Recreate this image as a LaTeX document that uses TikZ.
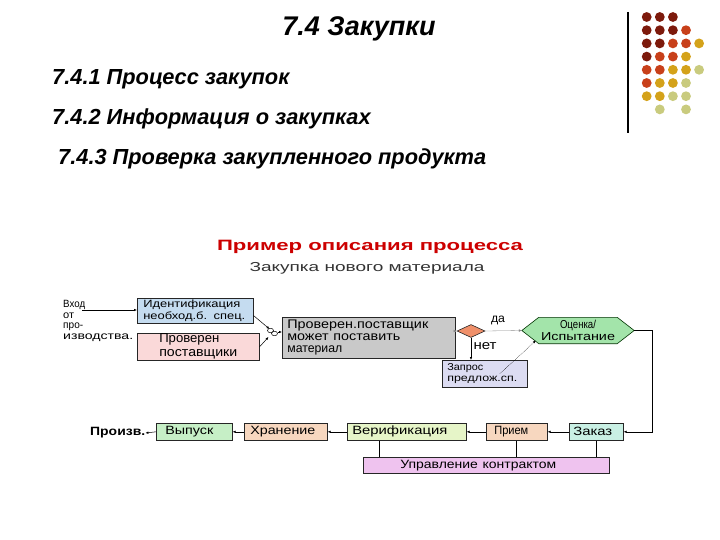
\documentclass[tikz,border=0pt]{standalone}
\usepackage{fontspec}
\setmainfont{Liberation Sans}
\usepackage{graphicx}
\usetikzlibrary{shapes.geometric,arrows.meta,backgrounds}
\newcommand\fw[2]{\resizebox{#1pt}{\height}{#2}}
\definecolor{dD}{HTML}{7D1A0C}
\definecolor{dR}{HTML}{C8401A}
\definecolor{dG}{HTML}{D4A21A}
\definecolor{dP}{HTML}{C9CB7E}
\definecolor{cIdent}{HTML}{C5DCF0}
\definecolor{cProv}{HTML}{FAD9D9}
\definecolor{cGray}{HTML}{C9C9C9}
\definecolor{cDia}{HTML}{F0906A}
\definecolor{cZap}{HTML}{DCDCF2}
\definecolor{cHex}{HTML}{A3E4AA}
\definecolor{cVyp}{HTML}{C6EFC6}
\definecolor{cHra}{HTML}{F7D7BF}
\definecolor{cVer}{HTML}{E6F5C8}
\definecolor{cZak}{HTML}{C9F0E4}
\definecolor{cUpr}{HTML}{EFC3EF}
\definecolor{cRed}{HTML}{CC0000}
\begin{document}
\begin{tikzpicture}[x=1pt,y=-1pt,
  hdr/.style={anchor=west,inner sep=0pt,font=\fontsize{21.8}{24}\selectfont\bfseries\itshape},
  box/.style={draw=black!85,line width=0.6pt,inner ysep=0pt,align=left,anchor=north west},
  arr/.style={-{Latex[length=3pt,width=2.5pt]},line width=0.5pt},
  dot/.style={circle,inner sep=0pt,minimum size=9.8pt},
  lbl/.style={inner sep=0pt}]
\useasboundingbox (0,0) rectangle (720,540);
% header
\node[inner sep=0pt,font=\fontsize{27}{30}\selectfont\bfseries\itshape] (title) at (359,29) {7.4 Закупки};
\node[hdr] (s1) at (52,79) {7.4.1 Процесс закупок};
\node[hdr] (s2) at (52,119) {7.4.2 Информация о закупках};
\node[hdr] (s3) at (58,159) {7.4.3 Проверка закупленного продукта};
% decoration
\draw[line width=1.1pt] (628,12) -- (628,133);
\foreach \r/\cols in {1/{D,D,D},2/{D,D,D,R},3/{D,D,R,R,G},4/{D,R,R,G},5/{R,R,G,G,P},6/{R,G,G,P},7/{G,G,P,P}}{
  \foreach \c [count=\i] in \cols {
    \node[dot,fill=d\c] (dot\r\i) at ({646.7+13.1*(\i-1)},{17+13.2*(\r-1)}) {};
  }
}
\node[dot,fill=dP] (dot82) at (659.8,109.4) {};
\node[dot,fill=dP] (dot84) at (686,109.4) {};
% diagram titles
\node[lbl,font=\fontsize{15}{17}\selectfont\bfseries,text=cRed] (dtitle) at (370,247) {\fw{306}{Пример описания процесса}};
\node[lbl,font=\fontsize{13}{15}\selectfont,text=black!80] (dsub) at (367,268) {\fw{235}{Закупка нового материала}};
% input text
\node[lbl,align=left,anchor=west,font=\fontsize{10.5}{10.7}\selectfont] (vhod) at (63,321) {\fw{22}{Вход}\\\fw{11}{от}\\\fw{20}{про-}\\\fw{70}{изводства.}};
\coordinate (vin) at (82,310);
% boxes
\node[box,fill=cIdent,text width=104pt,inner xsep=6pt,minimum height=25pt,font=\fontsize{10.5}{11.5}\selectfont] (ident) at (137,298) {\fw{97}{Идентификация}\\\fw{102}{необход.б. спец.}};
\node[box,fill=cProv,minimum width=122pt,minimum height=27pt,font=\fontsize{13}{14}\selectfont] (prov) at (137,333) {\fw{60}{Проверен}\\\fw{78}{поставщики}};
\node[inner sep=0pt,minimum width=11pt,minimum height=10pt] (sym) at (272.5,332) {};
\draw[line width=0.5pt] ([xshift=-2pt,yshift=1.5pt]sym.center) ellipse[x radius=3pt,y radius=2.2pt];
\draw[line width=0.5pt] ([xshift=2pt,yshift=-1.5pt]sym.center) ellipse[x radius=3pt,y radius=2.2pt];
\node[box,fill=cGray,text width=163pt,inner xsep=5pt,minimum height=41pt,font=\fontsize{12.5}{12}\selectfont] (gray) at (282,317) {\fw{141}{Проверен.поставщик}\\\fw{113}{может поставить}\\\fw{55}{материал}};
\node[diamond,draw=black!85,line width=0.6pt,fill=cDia,inner sep=0pt,minimum width=28pt,minimum height=13pt] (dia) at (471,331) {};
\node[lbl,font=\fontsize{12}{13}\selectfont] (lda) at (498,320) {\fw{14}{да}};
\node[lbl,font=\fontsize{13}{14}\selectfont] (lnet) at (485,346) {\fw{23}{нет}};
\node[box,fill=cZap,text width=75pt,inner xsep=5pt,minimum height=27pt,font=\fontsize{10}{11}\selectfont] (zap) at (442,360) {\fw{36}{Запрос}\\\fw{70}{предлож.сп.}};
\node[inner sep=0pt,minimum width=112pt,minimum height=26pt,align=center,font=\fontsize{11.5}{12}\selectfont] (hex) at (578,330.5) {\fw{36}{Оценка/}\\\fw{74}{Испытание}};
\begin{pgfonlayer}{background}
\draw[draw=black!80!green,line width=0.6pt,fill=cHex] (hex.west) -- ([xshift=17pt]hex.north west) -- ([xshift=-17pt]hex.north east) -- (hex.east) -- ([xshift=-17pt]hex.south east) -- ([xshift=17pt]hex.south west) -- cycle;
\end{pgfonlayer}
% bottom row
\node[box,fill=cVyp,text width=58pt,inner xsep=9pt,minimum height=17pt,font=\fontsize{12}{13}\selectfont] (vyp) at (156,423) {\fw{48}{Выпуск}};
\node[box,fill=cHra,text width=71pt,inner xsep=6pt,minimum height=17pt,font=\fontsize{12}{13}\selectfont] (hra) at (244,423) {\fw{65}{Хранение}};
\node[box,fill=cVer,text width=109pt,inner xsep=5pt,minimum height=17pt,font=\fontsize{12}{13}\selectfont] (ver) at (347,423) {\fw{95}{Верификация}};
\node[box,fill=cHra,text width=45pt,inner xsep=8pt,minimum height=17pt,font=\fontsize{12}{13}\selectfont] (pri) at (486,423) {\fw{34}{Прием}};
\node[box,fill=cZak,text width=46pt,inner xsep=4pt,minimum height=17pt,font=\fontsize{12}{13}\selectfont] (zak) at (569,423) {\fw{39}{Заказ}};
\node[box,fill=cUpr,text width=172pt,inner xsep=37pt,minimum height=16pt,font=\fontsize{12}{13}\selectfont] (upr) at (363,457) {\fw{156}{Управление контрактом}};
\node[lbl,anchor=west,font=\fontsize{12}{13}\selectfont\bfseries] (proizv) at (90,433) {\fw{55}{Произв.}};
% connectors
\draw[arr] (vin) -- (vin -| ident.west);
\draw[arr] ([yshift=8pt]ident.south east) -- ([xshift=-3pt,yshift=3pt]sym.center);
\draw[arr] (prov.east) -- ([xshift=-4pt,yshift=-5pt]sym.center);
\draw[arr] (sym.east) -- (sym.east -| gray.west);
\draw[arr,black!45,line width=0.3pt] (gray.east |- dia.west) -- (dia.west);
\draw[arr,black!45,line width=0.3pt] (dia.east) -- (hex.west);
\draw[arr] (dia.south) -- (dia.south |- zap.north);
\draw[arr,densely dotted] ([xshift=15pt]zap.center) -- ([xshift=14pt,yshift=-10pt]hex.west);
\draw[arr] (hex.east) -- ++(18,0) |- (zak.east);
\draw[arr] (zak.west) -- (pri.east);
\draw[arr] (pri.west) -- (ver.east);
\draw[arr] (ver.west) -- (hra.east);
\draw[arr] (hra.west) -- (vyp.east);
\draw[arr] (vyp.west) -- (proizv.east);
\draw[line width=1.1pt] ([xshift=-27.5pt]ver.south) -- ([xshift=-27.5pt]ver.south |- upr.north);
\draw[line width=1.1pt] (pri.south) -- (pri.south |- upr.north);
\draw[line width=1.1pt] (zak.south) -- (zak.south |- upr.north);
\end{tikzpicture}
\end{document}
